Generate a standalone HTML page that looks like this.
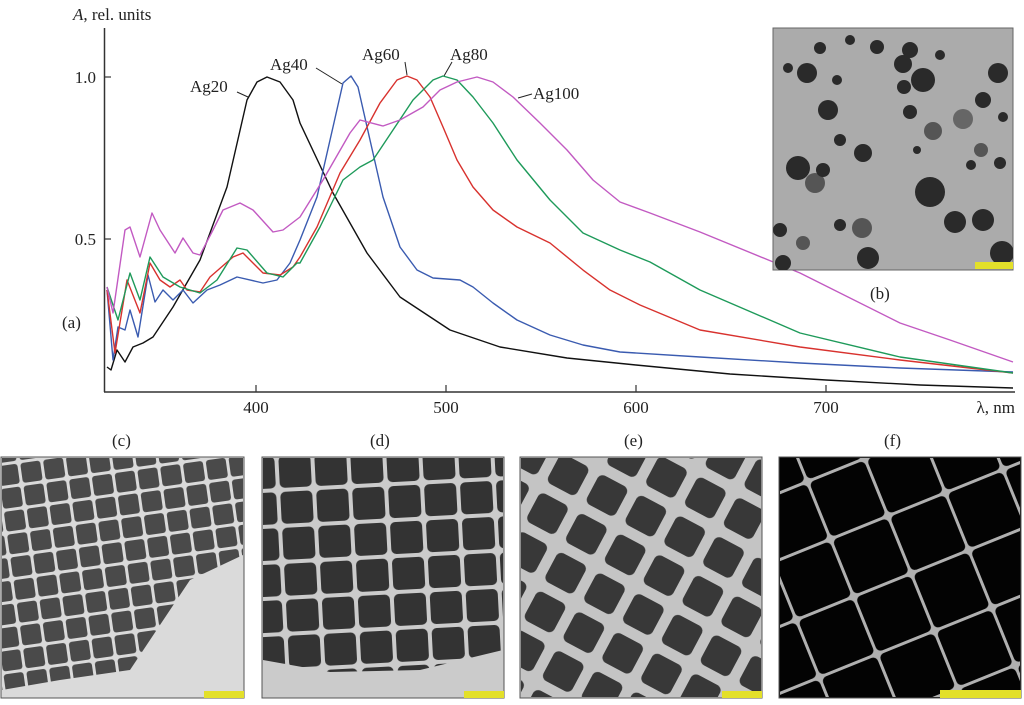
<!DOCTYPE html>
<html><head><meta charset="utf-8"><style>
html,body{margin:0;padding:0;background:#fff;}
svg{display:block;}
text{font-family:"Liberation Serif",serif;fill:#222;}
</style></head><body>
<svg width="1024" height="705" viewBox="0 0 1024 705" xmlns="http://www.w3.org/2000/svg">
<defs>
<pattern id="pc" width="23" height="23" patternUnits="userSpaceOnUse" patternTransform="rotate(-8)">
<rect x="1.5" y="1.5" width="20" height="20" rx="3" fill="#4a4a4a"/></pattern>
<pattern id="pd" width="36" height="36" patternUnits="userSpaceOnUse" patternTransform="rotate(-3)">
<rect x="2" y="2" width="32" height="32" rx="5" fill="#333"/></pattern>
<pattern id="pe" width="44" height="44" patternUnits="userSpaceOnUse" patternTransform="rotate(28)">
<rect x="4" y="4" width="33" height="33" rx="6" fill="#383838"/></pattern>
<pattern id="pf" width="62" height="62" patternUnits="userSpaceOnUse" patternTransform="rotate(-22) translate(10,5)">
<rect x="0" y="0" width="62" height="62" fill="#b0b0b0"/>
<rect x="1.5" y="1.5" width="59" height="59" rx="5" fill="#030303"/></pattern>
<clipPath id="cb"><rect x="773" y="28" width="240" height="242"/></clipPath>
</defs>

<line x1="104.5" y1="28" x2="104.5" y2="392" stroke="#333" stroke-width="1.5"/>
<line x1="104" y1="392" x2="1015" y2="392" stroke="#333" stroke-width="1.5"/>
<g stroke="#333" stroke-width="1.2">
<line x1="104" y1="77" x2="111" y2="77"/><line x1="104" y1="239" x2="111" y2="239"/>
<line x1="256" y1="392" x2="256" y2="385"/><line x1="446" y1="392" x2="446" y2="385"/>
<line x1="636" y1="392" x2="636" y2="385"/><line x1="826" y1="392" x2="826" y2="385"/>
</g>
<g font-size="17">
<text x="96" y="83" text-anchor="end">1.0</text>
<text x="96" y="245" text-anchor="end">0.5</text>
<text x="256" y="413" text-anchor="middle">400</text>
<text x="446" y="413" text-anchor="middle">500</text>
<text x="636" y="413" text-anchor="middle">600</text>
<text x="826" y="413" text-anchor="middle">700</text>
<text x="1015" y="413" text-anchor="end">λ, nm</text>
<text x="73" y="20"><tspan font-style="italic">A</tspan>, rel. units</text>
<text x="62" y="328">(a)</text>
<text x="190" y="92">Ag20</text>
<text x="270" y="70">Ag40</text>
<text x="362" y="60">Ag60</text>
<text x="450" y="60">Ag80</text>
<text x="533" y="99">Ag100</text>
<text x="870" y="299">(b)</text>
<text x="112" y="446">(c)</text>
<text x="370" y="446">(d)</text>
<text x="624" y="446">(e)</text>
<text x="884" y="446">(f)</text>
</g>
<g stroke="#222" stroke-width="1" fill="none">
<path d="M237 92L248 97"/><path d="M316 68L342 84"/><path d="M405 62L407 75"/><path d="M452 62L444 76"/><path d="M532 94L518 98"/>
</g>

<g fill="none" stroke-width="1.4" stroke-linejoin="round">
<path stroke="#111" d="M107 367L111 370L117 350L125 362L133 347L143 343L153 337L173 307L200 260L227 187L247 100L257 82L267 77L280 82L293 100L300 123L333 193L367 253L400 297L450 330L500 347L567 358L636 365L730 374L826 380L920 385L1013 388"/>
<path stroke="#3a5bb0" d="M107 290L113 360L118 327L125 330L130 310L138 337L148 275L155 302L163 290L173 300L183 290L193 303L207 290L220 285L237 277L263 283L277 280L290 263L300 240L317 197L333 127L343 83L351 76L358 87L370 140L383 197L400 247L417 270L433 278L460 280L473 287L493 303L517 320L550 335L583 345L620 352L700 357L800 363L900 368L1013 372"/>
<path stroke="#d8322e" d="M107 290L115 353L127 280L140 313L150 263L160 280L170 287L180 280L187 290L200 292L210 277L233 257L243 253L263 273L280 275L293 267L300 257L317 227L340 173L360 140L380 103L397 80L407 76L417 80L430 97L443 127L457 160L473 187L493 210L517 227L550 243L583 270L610 290L640 305L700 330L800 347L900 360L1013 373"/>
<path stroke="#1e9a5a" d="M107 287L118 320L130 273L140 300L150 257L163 277L180 287L200 293L217 280L237 248L247 250L267 273L283 277L297 263L300 263L320 227L343 180L360 167L373 160L393 130L413 100L433 80L443 76L457 80L473 97L493 123L517 160L550 200L583 233L620 250L650 262L700 290L800 333L900 357L1013 373"/>
<path stroke="#c25ac2" d="M107 287L113 313L125 230L130 227L140 257L152 213L160 230L175 253L183 238L193 253L200 255L213 230L223 210L240 203L253 210L273 232L283 230L300 217L323 180L350 133L360 120L383 126L400 120L423 107L440 90L457 82L477 77L493 82L513 97L540 123L567 150L593 180L620 202L650 213L700 232L800 273L900 323L950 340L1013 362"/>
</g>

<rect x="773" y="28" width="240" height="242" fill="#ababab" stroke="#666"/>
<g clip-path="url(#cb)" fill="#2a2a2a">
<circle cx="877" cy="47" r="7"/><circle cx="910" cy="50" r="8"/><circle cx="903" cy="64" r="9"/><circle cx="923" cy="80" r="12"/>
<circle cx="998" cy="73" r="10"/><circle cx="904" cy="87" r="7"/><circle cx="828" cy="110" r="10"/><circle cx="910" cy="112" r="7"/>
<circle cx="933" cy="131" r="9" fill="#555"/><circle cx="963" cy="119" r="10" fill="#666"/><circle cx="983" cy="100" r="8"/>
<circle cx="863" cy="153" r="9"/><circle cx="798" cy="168" r="12"/><circle cx="815" cy="183" r="10" fill="#555"/><circle cx="823" cy="170" r="7"/>
<circle cx="930" cy="192" r="15"/><circle cx="955" cy="222" r="11"/><circle cx="983" cy="220" r="11"/><circle cx="862" cy="228" r="10" fill="#555"/>
<circle cx="840" cy="225" r="6"/><circle cx="868" cy="258" r="11"/><circle cx="1002" cy="253" r="12"/><circle cx="780" cy="230" r="7"/>
<circle cx="807" cy="73" r="10"/><circle cx="788" cy="68" r="5"/><circle cx="837" cy="80" r="5"/><circle cx="940" cy="55" r="5"/>
<circle cx="1003" cy="117" r="5"/><circle cx="981" cy="150" r="7" fill="#555"/><circle cx="971" cy="165" r="5"/><circle cx="1000" cy="163" r="6"/>
<circle cx="917" cy="150" r="4"/><circle cx="803" cy="243" r="7" fill="#555"/><circle cx="783" cy="263" r="8"/><circle cx="840" cy="140" r="6"/>
<circle cx="820" cy="48" r="6"/><circle cx="850" cy="40" r="5"/>
</g>
<rect x="975" y="262" width="38" height="7" fill="#e3e02a"/>

<rect x="1" y="457" width="243" height="241" fill="#dadada" stroke="#555"/>
<polygon points="2,458 243,458 243,555 190,580 150,640 130,670 60,680 2,690" fill="url(#pc)"/>
<rect x="204" y="691" width="40" height="7" fill="#e3e02a"/>
<rect x="262" y="457" width="242" height="241" fill="#cbcbcb" stroke="#555"/>
<polygon points="263,458 503,458 503,650 420,670 330,672 263,660" fill="url(#pd)"/>
<rect x="464" y="691" width="40" height="7" fill="#e3e02a"/>
<rect x="520" y="457" width="242" height="241" fill="#c4c4c4" stroke="#555"/>
<rect x="521" y="458" width="240" height="239" fill="url(#pe)"/>
<rect x="722" y="691" width="40" height="7" fill="#e3e02a"/>
<rect x="779" y="457" width="242" height="241" fill="#050505" stroke="#555"/>
<rect x="780" y="458" width="240" height="239" fill="url(#pf)"/>
<rect x="940" y="690" width="81" height="8" fill="#e3e02a"/>
</svg>
</body></html>
